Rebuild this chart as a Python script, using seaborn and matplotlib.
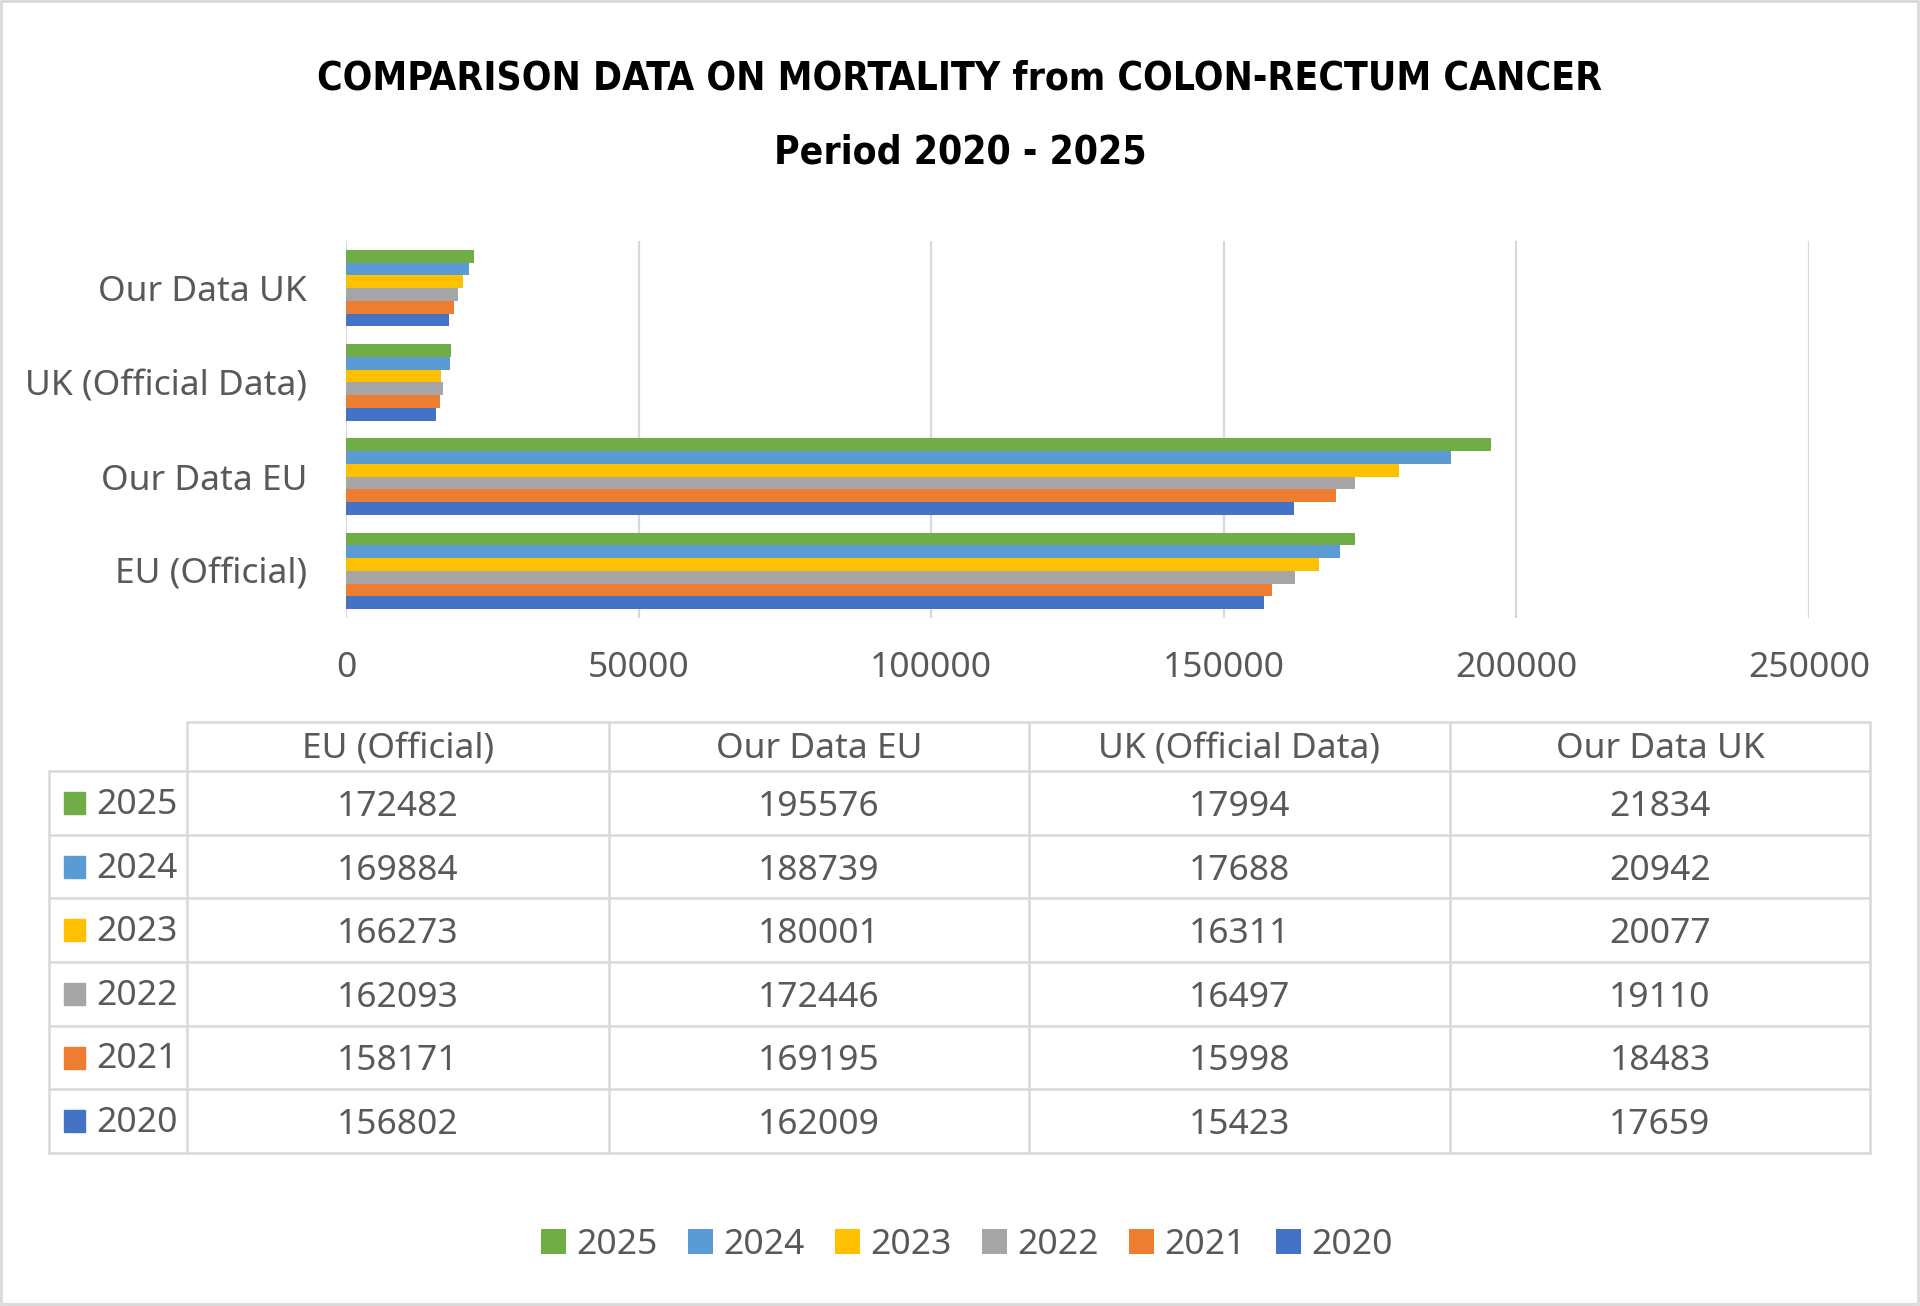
import pandas as pd
import numpy as np
import matplotlib
matplotlib.use("Agg")
import matplotlib.pyplot as plt
import seaborn as sns

categories = ["EU (Official)", "Our Data EU", "UK (Official Data)", "Our Data UK"]
years = ["2025", "2024", "2023", "2022", "2021", "2020"]
eu_official = [172482, 169884, 166273, 162093, 158171, 156802]
our_data_eu = [195576, 188739, 180001, 172446, 169195, 162009]
uk_official = [17994, 17688, 16311, 16497, 15998, 15423]
our_data_uk = [21834, 20942, 20077, 19110, 18483, 17659]
year_colors = ["#70AD47", "#5B9BD5", "#FFC000", "#A5A5A5", "#ED7D31", "#4472C4"]
x_ticks = [0, 50000, 100000, 150000, 200000, 250000]

series = [eu_official, our_data_eu, uk_official, our_data_uk]
rows = []
for cat, vals in zip(categories, series):
    for y, v in zip(years, vals):
        rows.append({"category": cat, "year": y, "deaths": v})
df = pd.DataFrame(rows)

sns.set_theme(style="white")
plt.rcParams["font.family"] = ["Noto Sans", "DejaVu Sans"]
txt = "#595959"
grid_c = "#D9D9D9"
fs = 25.5

W, H = 1920, 1306
fig = plt.figure(figsize=(W / 100, H / 100), dpi=100)

def fx(px):
    return px / W

def fy(py):
    return 1 - py / H

# bar chart
ax_l, ax_r, ax_t, ax_b = 346, 1809, 241, 618
ax = fig.add_axes([fx(ax_l), fy(ax_b), fx(ax_r - ax_l), (ax_b - ax_t) / H])
sns.barplot(data=df, x="deaths", y="category", hue="year",
            order=categories[::-1], hue_order=years,
            palette=year_colors, saturation=1, orient="h", width=0.81,
            linewidth=0, ax=ax)
handles, labels = ax.get_legend_handles_labels()
ax.get_legend().remove()
ax.set_xlim(0, 250000)
ax.set_xticks(x_ticks)
ax.set_xticklabels([str(t) for t in x_ticks])
ax.xaxis.grid(True, color=grid_c, linewidth=1.6)
ax.set_axisbelow(True)
for s in ax.spines.values():
    s.set_visible(False)
ax.set_xlabel("")
ax.set_ylabel("")
ax.tick_params(axis="x", colors=txt, labelsize=fs, length=0, pad=24)
ax.tick_params(axis="y", colors=txt, labelsize=fs, length=0, pad=28)

# title
fig.text(0.5, fy(79), "COMPARISON DATA ON MORTALITY from COLON-RECTUM CANCER",
         ha="center", va="center", fontsize=28, fontweight="bold",
         family="DejaVu Sans", fontstretch="condensed", color="black")
fig.text(0.5, fy(153), "Period 2020 - 2025", ha="center", va="center",
         fontsize=28, fontweight="bold", family="DejaVu Sans",
         fontstretch="condensed", color="black")

# data table below the chart
tab = fig.add_axes([0, 0, 1, 1])
tab.set_xlim(0, W)
tab.set_ylim(H, 0)
tab.axis("off")
col_edges = [49, 187, 609, 1029, 1450, 1870]
head_top, head_bot = 722, 771
row_h = (1153 - 771) / 6
row_edges = [head_bot + i * row_h for i in range(7)]

lw = 1.8
# header
tab.plot([col_edges[1], col_edges[-1]], [head_top, head_top], color=grid_c, lw=lw)
for x in col_edges[1:]:
    tab.plot([x, x], [head_top, row_edges[-1]], color=grid_c, lw=lw)
tab.plot([col_edges[0], col_edges[0]], [head_bot, row_edges[-1]], color=grid_c, lw=lw)
for y in row_edges:
    tab.plot([col_edges[0], col_edges[-1]], [y, y], color=grid_c, lw=lw)

for j, cat in enumerate(categories):
    cx = (col_edges[j + 1] + col_edges[j + 2]) / 2
    tab.text(cx, (head_top + head_bot) / 2 + 3, cat, ha="center", va="center",
             fontsize=fs, color=txt)
for i, (yr, col) in enumerate(zip(years, year_colors)):
    cy = (row_edges[i] + row_edges[i + 1]) / 2
    tab.add_patch(plt.Rectangle((64, cy - 11), 21, 22, color=col))
    tab.text(96, cy + 2, yr, ha="left", va="center", fontsize=fs, color=txt)
    for j, vals in enumerate(series):
        cx = (col_edges[j + 1] + col_edges[j + 2]) / 2
        tab.text(cx, cy + 4, str(vals[i]), ha="center", va="center",
                 fontsize=fs, color=txt)

# chart border
tab.add_patch(plt.Rectangle((1, 1), W - 3, H - 3, fill=False,
                            edgecolor=grid_c, lw=2))

# legend
fig.legend(handles, labels, loc="center", bbox_to_anchor=(fx(967), fy(1245)),
           ncol=6, frameon=False, fontsize=fs, labelcolor=txt,
           handlelength=0.7, handleheight=0.7, handletextpad=0.3,
           columnspacing=0.85)

fig.savefig("out.png", dpi=100, facecolor="white")
